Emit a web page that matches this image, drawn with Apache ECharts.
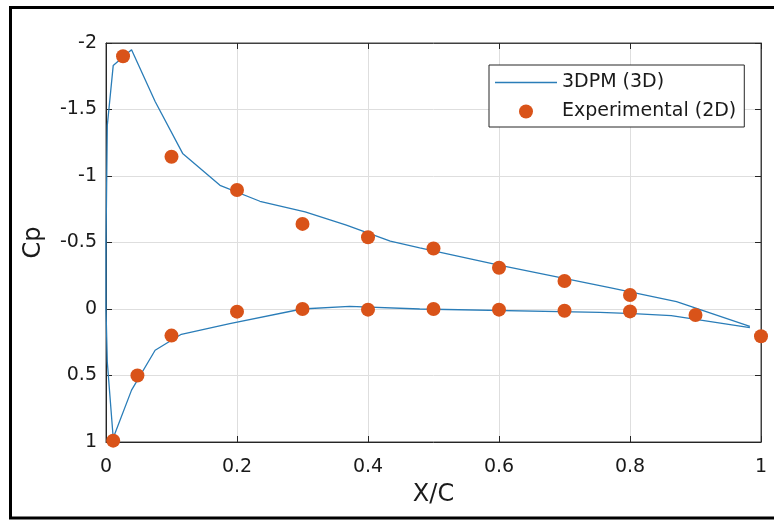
<!DOCTYPE html>
<html>
<head>
<meta charset="utf-8">
<script src="https://cdn.jsdelivr.net/npm/echarts@6/dist/echarts.min.js"></script>
<style>
  html, body { margin: 0; padding: 0; background: #fff; overflow: hidden; }
  #chart { width: 774px; height: 520px; }
</style>
</head>
<body>
<div id="chart"></div>
<script>
// Panel-method Cp distribution (closed loop: TE upper -> LE -> TE lower)
const panelX  = [0.983, 0.871, 0.769, 0.600, 0.479, 0.434, 0.367, 0.304, 0.235, 0.174, 0.117, 0.075, 0.039, 0.011, 0.002, 0.000, 0.000, 0.002, 0.011, 0.039, 0.075, 0.115, 0.189, 0.299, 0.372, 0.479, 0.754, 0.805, 0.863, 0.983];
const panelCp = [0.13, -0.055, -0.16, -0.33, -0.46, -0.51, -0.63, -0.73, -0.81, -0.93, -1.17, -1.56, -1.95, -1.83, -1.38, -0.50, 0.00, 0.40, 0.97, 0.61, 0.31, 0.19, 0.11, 0.00, -0.02, 0.00, 0.025, 0.035, 0.05, 0.14];

// Wind-tunnel measurements
const expX  = [0.026, 0.10, 0.20, 0.30, 0.40, 0.50, 0.60, 0.70, 0.80, 0.90, 1.00, 0.011, 0.048, 0.10, 0.20, 0.30, 0.40, 0.50, 0.60, 0.70, 0.80];
const expCp = [-1.90, -1.145, -0.895, -0.64, -0.54, -0.455, -0.31, -0.21, -0.105, 0.045, 0.205, 0.99, 0.50, 0.20, 0.02, 0.00, 0.005, 0.00, 0.005, 0.013, 0.018];

// Axis ticks
const xTicks = [0, 0.2, 0.4, 0.6, 0.8, 1];
const yTicks = [-2, -1.5, -1, -0.5, 0, 0.5, 1];

const seriesNames = ['3DPM (3D)', 'Experimental (2D)'];

const panelData = panelX.map((x, i) => [x, panelCp[i]]);
const expData = expX.map((x, i) => [x, expCp[i]]);

const FONT = 'DejaVu Sans';
const AXIS_COLOR = '#262626';

const xRange = { min: xTicks[0], max: xTicks[xTicks.length - 1], interval: xTicks[1] - xTicks[0] };
const yRange = { min: yTicks[0], max: yTicks[yTicks.length - 1], interval: yTicks[1] - yTicks[0] };

const chart = echarts.init(document.getElementById('chart'), null, { renderer: 'canvas' });

chart.setOption({
  backgroundColor: '#ffffff',
  animation: false,
  // figure frame: open on the right side
  graphic: [{
    type: 'polyline',
    z: 100,
    silent: true,
    shape: { points: [[790, 7.5], [10.5, 7.5], [10.5, 518], [790, 518]] },
    style: { fill: 'none', stroke: '#000', lineWidth: 3 }
  }],
  grid: {
    left: 106, right: 13, top: 43, bottom: 78,
    show: true, borderColor: '#404040', borderWidth: 1, backgroundColor: '#fff'
  },
  legend: {
    orient: 'vertical',
    left: 489, top: 65,
    padding: [8, 8, 6, 6],
    itemGap: 10,
    itemWidth: 62, itemHeight: 14,
    backgroundColor: '#fff',
    borderColor: AXIS_COLOR, borderWidth: 1, borderRadius: 0,
    textStyle: { fontFamily: FONT, fontSize: 19, color: '#1a1a1a' },
    data: [
      { name: seriesNames[0], icon: 'path://M0,0H62V1.3H0Z' },
      { name: seriesNames[1], icon: 'circle' }
    ]
  },
  xAxis: [{
    type: 'value', position: 'bottom', ...xRange,
    name: 'X/C', nameLocation: 'middle', nameGap: 41,
    nameTextStyle: { fontFamily: FONT, fontSize: 24, color: '#1a1a1a' },
    axisLine: { show: true, onZero: false, lineStyle: { color: AXIS_COLOR, width: 1 } },
    axisTick: { show: true, inside: true, length: 6, lineStyle: { color: AXIS_COLOR } },
    axisLabel: { fontFamily: FONT, fontSize: 19, color: '#1a1a1a', margin: 16 },
    splitLine: { show: true, lineStyle: { color: '#dedede', width: 1 } }
  }, {
    type: 'value', position: 'top', ...xRange,
    axisLine: { show: true, onZero: false, lineStyle: { color: '#404040', width: 1 } },
    axisTick: { show: true, inside: true, length: 6, lineStyle: { color: AXIS_COLOR } },
    axisLabel: { show: false },
    splitLine: { show: false }
  }],
  yAxis: [{
    type: 'value', position: 'left', inverse: true, ...yRange,
    name: 'Cp', nameLocation: 'middle', nameGap: 60, nameRotate: 90,
    nameTextStyle: { fontFamily: FONT, fontSize: 24, color: '#1a1a1a' },
    axisLine: { show: true, onZero: false, lineStyle: { color: AXIS_COLOR, width: 1 } },
    axisTick: { show: true, inside: true, length: 6, lineStyle: { color: AXIS_COLOR } },
    axisLabel: { fontFamily: FONT, fontSize: 19, color: '#1a1a1a', margin: 9 },
    splitLine: { show: true, lineStyle: { color: '#dedede', width: 1 } }
  }, {
    type: 'value', position: 'right', inverse: true, ...yRange,
    axisLine: { show: true, onZero: false, lineStyle: { color: '#404040', width: 1 } },
    axisTick: { show: true, inside: true, length: 6, lineStyle: { color: AXIS_COLOR } },
    axisLabel: { show: false },
    splitLine: { show: false }
  }],
  series: [{
    name: seriesNames[0],
    type: 'line',
    xAxisIndex: 0, yAxisIndex: 0,
    data: panelData,
    showSymbol: false,
    symbol: 'none',
    color: '#2a7db8',
    lineStyle: { color: '#2a7db8', width: 1.3 },
    z: 3
  }, {
    name: seriesNames[1],
    type: 'scatter',
    xAxisIndex: 0, yAxisIndex: 0,
    data: expData,
    symbol: 'circle',
    symbolSize: 14,
    color: '#D95319',
    itemStyle: { color: '#D95319', opacity: 1 },
    z: 4
  }]
});
</script>
</body>
</html>
